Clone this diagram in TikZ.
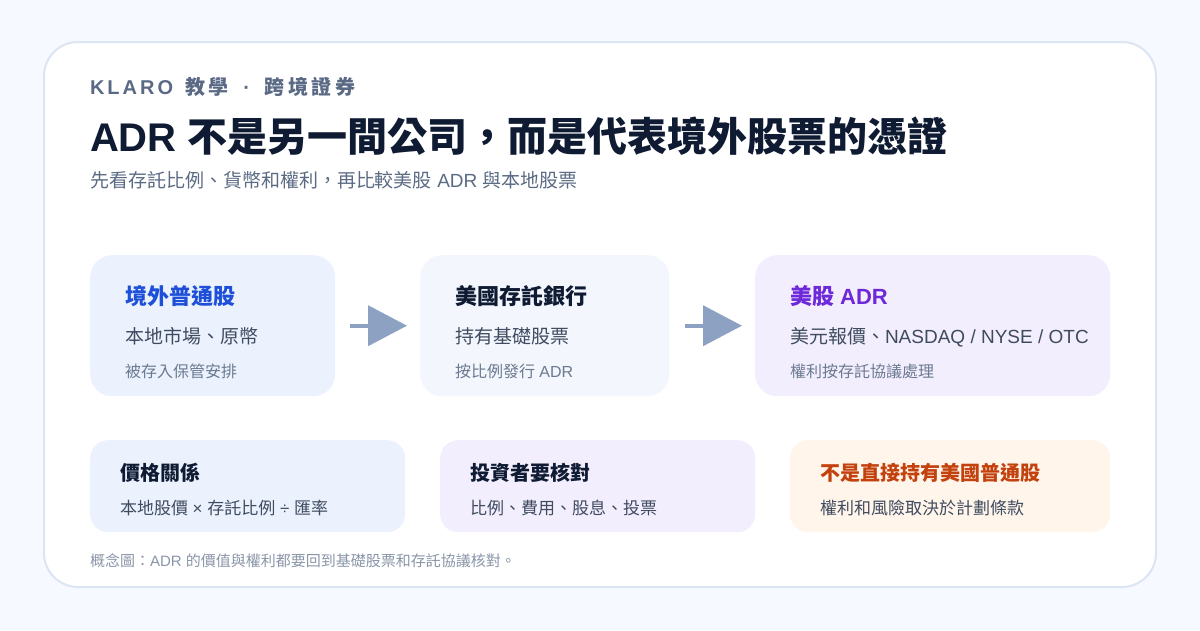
\documentclass[tikz,border=0pt]{standalone}
\usepackage{fontspec}
\setmainfont{Noto Sans CJK TC}
\newfontfamily\latfont{Liberation Sans}
\newfontfamily\kickcjk[LetterSpace=18]{Noto Sans CJK TC}
\newfontfamily\kicklat[LetterSpace=15]{Liberation Sans}
\newcommand\lat[1]{{\latfont #1}}
\usetikzlibrary{arrows.meta}
\definecolor{bgc}{HTML}{F6F9FF}
\definecolor{cardline}{HTML}{DCE5F3}
\definecolor{kickc}{HTML}{5A6A85}
\definecolor{titlec}{HTML}{0F1B33}
\definecolor{subc}{HTML}{5B6B84}
\definecolor{fblue}{HTML}{EBF2FE}
\definecolor{fpale}{HTML}{F3F6FD}
\definecolor{flav}{HTML}{F3EEFD}
\definecolor{fpeach}{HTML}{FFF5EB}
\definecolor{tblue}{HTML}{1E4FD8}
\definecolor{tpurple}{HTML}{6D28D9}
\definecolor{torange}{HTML}{C2410C}
\definecolor{linec}{HTML}{3F4B5F}
\definecolor{smallc}{HTML}{6B7A90}
\definecolor{arrowc}{HTML}{8DA2C3}
\definecolor{footc}{HTML}{8A96A8}
\begin{document}
\begin{tikzpicture}[x=1pt,y=-1pt,
  topbox/.style={draw=none,rounded corners=22pt,minimum height=141pt,anchor=north west,inner sep=0pt},
  botbox/.style={draw=none,rounded corners=18pt,minimum height=92pt,minimum width=315pt,anchor=north west,inner sep=0pt},
  txt/.style={anchor=base west,inner sep=0pt,outer sep=0pt},
  boxtitle/.style={txt,font=\fontsize{22pt}{26pt}\selectfont\bfseries},
  boxline/.style={txt,font=\fontsize{19pt}{22pt}\selectfont,text=linec},
  boxsmall/.style={txt,font=\fontsize{16pt}{19pt}\selectfont,text=smallc},
  bottitle/.style={txt,font=\fontsize{20pt}{24pt}\selectfont\bfseries},
  botline/.style={txt,font=\fontsize{17pt}{20pt}\selectfont,text=linec},
  flow/.style={draw=arrowc,line width=4pt,-{Triangle[length=39pt,width=40pt]}}
]
\useasboundingbox (0,0) rectangle (1200,630);
\fill[bgc] (0,0) rectangle (1200,630);
\filldraw[fill=white,draw=cardline,line width=2pt,rounded corners=34pt] (44,42) rectangle (1156,587);

% header
\node[txt,text=kickc,font=\fontsize{20pt}{24pt}\selectfont\bfseries] (kicker) at (90,94)
  {{\kicklat KLARO}\hspace{12pt}{\kickcjk 教學}\makebox[36pt]{\latfont ·}{\kickcjk 跨境證券}};
\node[txt,text=titlec,font=\fontsize{40pt}{46pt}\selectfont\bfseries] (title) at (90,151)
  {\lat{ADR }不是另一間公司，而是代表境外股票的憑證};
\node[txt,text=subc,font=\fontsize{19pt}{22pt}\selectfont] (sub) at (90,187)
  {先看存託比例、貨幣和權利，再比較美股\lat{ ADR }與本地股票};

% top row
\node[topbox,fill=fblue,minimum width=245pt] (b1) at (90,255) {};
\node[topbox,fill=fpale,minimum width=249pt] (b2) at (420,255) {};
\node[topbox,fill=flav,minimum width=355pt] (b3) at (755,255) {};

\node[boxtitle,text=tblue] (b1t) at (125,304.4) {境外普通股};
\node[boxline] (b1l) at (125,343.7) {本地市場、原幣};
\node[boxsmall] (b1s) at (125,377) {被存入保管安排};

\node[boxtitle,text=titlec] (b2t) at (455,304.4) {美國存託銀行};
\node[boxline] (b2l) at (455,343.7) {持有基礎股票};
\node[boxsmall] (b2s) at (455,377) {按比例發行\lat{ ADR}};

\node[boxtitle,text=tpurple] (b3t) at (790,304.4) {美股\lat{ ADR}};
\node[boxline] (b3l) at (790,343.7) {美元報價、\lat{NASDAQ / NYSE / OTC}};
\node[boxsmall] (b3s) at (790,377) {權利按存託協議處理};

\draw[flow] ([xshift=15pt]b1.east) -- ([xshift=-13pt]b2.west);
\draw[flow] ([xshift=16pt]b2.east) -- ([xshift=-13pt]b3.west);

% bottom row
\node[botbox,fill=fblue] (c1) at (90,440) {};
\node[botbox,fill=flav] (c2) at (440,440) {};
\node[botbox,fill=fpeach,minimum width=320pt] (c3) at (790,440) {};

\node[bottitle,text=titlec] (c1t) at (120,480) {價格關係};
\node[botline] (c1l) at (120,514) {本地股價\lat{ × }存託比例\lat{ ÷ }匯率};

\node[bottitle,text=titlec] (c2t) at (470,480) {投資者要核對};
\node[botline] (c2l) at (470,514) {比例、費用、股息、投票};

\node[bottitle,text=torange] (c3t) at (820,480) {不是直接持有美國普通股};
\node[botline] (c3l) at (820,514) {權利和風險取決於計劃條款};

% footnote
\node[txt,text=footc,font=\fontsize{15pt}{18pt}\selectfont] (foot) at (90,566.7)
  {概念圖：\lat{ADR }的價值與權利都要回到基礎股票和存託協議核對。};
\end{tikzpicture}
\end{document}
